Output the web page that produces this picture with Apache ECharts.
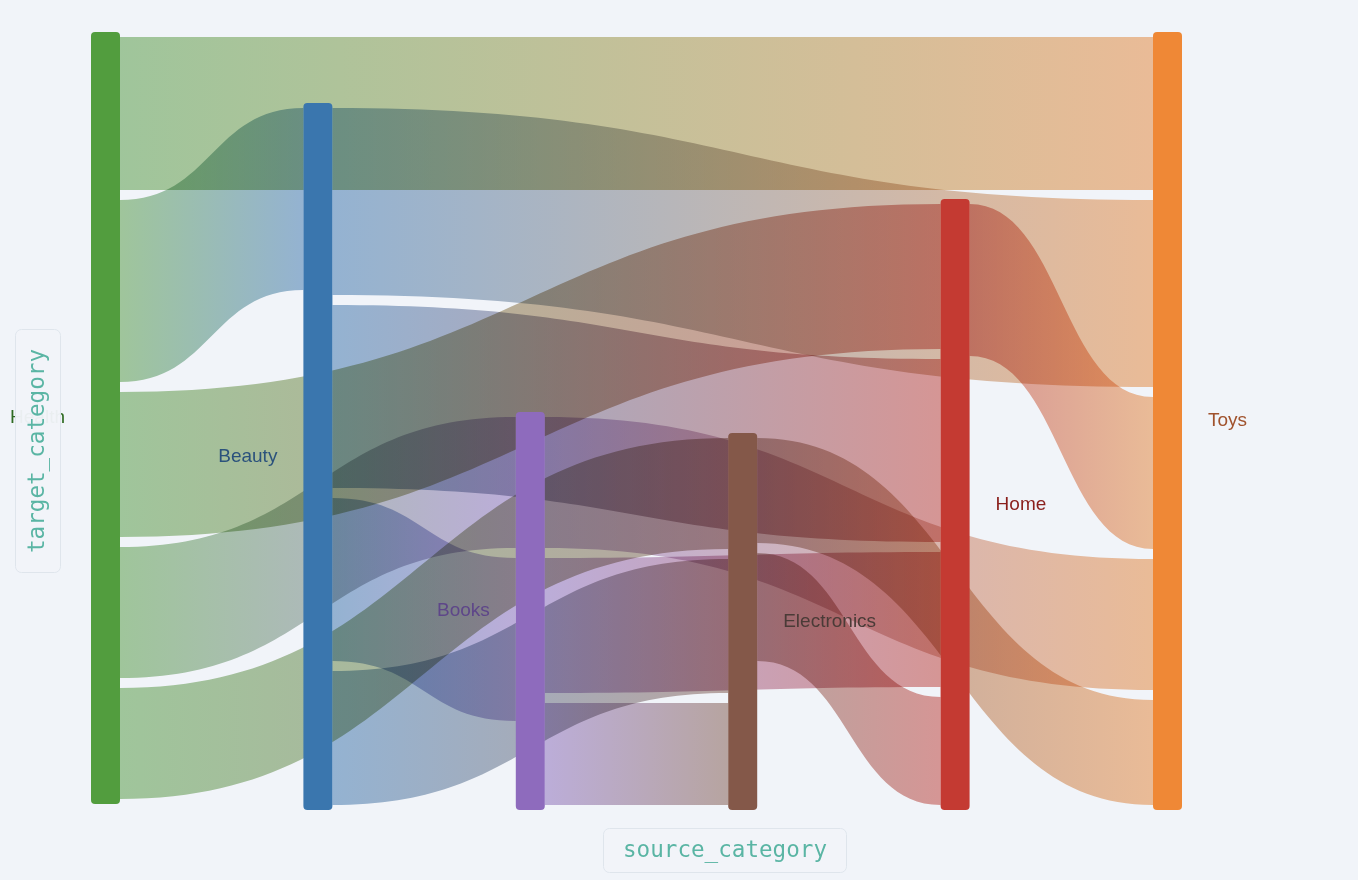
<!DOCTYPE html>
<html>
<head>
<meta charset="utf-8">
<script src="https://cdn.jsdelivr.net/npm/echarts@6/dist/echarts.min.js"></script>
<style>
html,body{margin:0;padding:0;background:#f1f4f9;}
#chart{width:1358px;height:880px;}
</style>
</head>
<body>
<div id="chart"></div>
<script>
// ---- data ----
const nodeNames   = ['Health', 'Beauty', 'Books', 'Electronics', 'Home', 'Toys'];
const nodeColors  = ['#529d3e', '#3a76ae', '#8e6bbd', '#845849', '#c43a32', '#ef8836'];
const labelColors = ['#2f6a22', '#2b527c', '#5e4689', '#4a3b37', '#8a1f1c', '#a0522d'];

const linkSources = ['Health','Health','Health','Health','Health',
                     'Beauty','Beauty','Beauty','Beauty',
                     'Books','Books','Books',
                     'Electronics','Electronics',
                     'Home'];
const linkTargets = ['Toys','Beauty','Home','Books','Electronics',
                     'Toys','Home','Books','Electronics',
                     'Toys','Home','Electronics',
                     'Toys','Home',
                     'Toys'];
const linkValues  = [153, 182, 145, 131, 111,
                     187, 183, 163, 134,
                     131, 135, 102,
                     105, 108,
                     152];

// invisible half-gap spacer flows placed around every link (gives the gaps between bands)
const SPACER = 5;
// vertical alignment of each node inside the layout box
const nodeVAlign = ['top', 'bottom', 'bottom', 'bottom', 'bottom', 'top'];

const BG = '#f1f4f9';
const NODE_WIDTH = 29;

// node totals (max of in/out flow, spacers included) -> node alignment
const inSum = {}, outSum = {};
nodeNames.forEach(n => { inSum[n] = 0; outSum[n] = 0; });
linkSources.forEach((s, i) => {
  const v = linkValues[i] + 2 * SPACER;
  outSum[s] += v;
  inSum[linkTargets[i]] += v;
});
const nodeTotals = nodeNames.map(n => Math.max(inSum[n], outSum[n]));
const maxTotal = Math.max.apply(null, nodeTotals);

const nodes = nodeNames.map((n, i) => ({
  name: n,
  localY: nodeVAlign[i] === 'bottom' ? 1 - nodeTotals[i] / maxTotal : 0,
  itemStyle: { color: nodeColors[i], borderRadius: 4 },
  label: { position: i < 3 ? 'left' : 'right', color: labelColors[i] }
}));

const links = [];
linkSources.forEach((s, i) => {
  links.push({ source: s, target: linkTargets[i], value: SPACER, lineStyle: { opacity: 0 }, silent: true });
  links.push({ source: s, target: linkTargets[i], value: linkValues[i] });
  links.push({ source: s, target: linkTargets[i], value: SPACER, lineStyle: { opacity: 0 }, silent: true });
});

const chart = echarts.init(document.getElementById('chart'), null, { renderer: 'canvas' });
const boxFont = '22.6px "DejaVu Sans Mono", monospace';
chart.setOption({
  backgroundColor: BG,
  animation: false,
  series: [{
    type: 'sankey',
    z: 2,
    left: 91,
    right: 176,
    top: 32,
    bottom: 70,
    nodeWidth: NODE_WIDTH,
    nodeGap: 10,
    layoutIterations: 32,
    data: nodes,
    links: links,
    label: {
      fontSize: 19,
      fontFamily: '"Liberation Sans", Arial, sans-serif',
      distance: 26
    },
    lineStyle: {
      color: 'gradient',
      opacity: 0.5,
      curveness: 0.5
    },
    emphasis: { disabled: true }
  }],
  graphic: {
    zlevel: 5,
    z: 100,
    elements: [
      {
        type: 'rect', name: 'axisBox', zlevel: 5, z: 100,
        shape: { x: 603.5, y: 828.5, width: 243, height: 44, r: 6 },
        style: { fill: 'rgba(241,244,249,0.96)', stroke: '#dfe5ec', lineWidth: 1 }
      },
      {
        type: 'text', name: 'axisBox', zlevel: 5, z: 101, x: 725, y: 851,
        style: { text: 'source_category', font: boxFont, fill: '#5ab5a4', align: 'center', verticalAlign: 'middle' }
      },
      {
        type: 'rect', name: 'axisBox', zlevel: 5, z: 100,
        shape: { x: 15.5, y: 329.5, width: 45, height: 243, r: 6 },
        style: { fill: 'rgba(241,244,249,0.96)', stroke: '#dfe5ec', lineWidth: 1 }
      },
      {
        type: 'text', name: 'axisBox', zlevel: 5, z: 101, x: 38, y: 451, rotation: Math.PI / 2,
        style: { text: 'target_category', font: boxFont, fill: '#5ab5a4', align: 'center', verticalAlign: 'middle' }
      }
    ]
  }
});

// flows are blended with "multiply" so overlapping bands darken each other; nodes get rounded corners;
// the boxed axis names sit above the chart layer
function postStyle() {
  const zr = chart.getZr();
  zr.storage.getDisplayList(true).forEach(el => {
    if (el.name === 'axisBox') {
      el.zlevel = 5;
      el.z = el.type === 'rect' ? 100 : 101;
      el.z2 = 1000;
      if (el.markRedraw) el.markRedraw();
    } else if (el.shape && el.shape.cpx1 !== undefined && el.shape.extent !== undefined) {
      el.style.blend = 'multiply';
      if (el.markRedraw) el.markRedraw();
    } else if (el.type === 'rect' && Math.abs(el.shape.width - NODE_WIDTH) < 0.5) {
      el.setShape('r', 4);
    }
  });
  zr.refreshImmediately();
}
postStyle();
chart.on('finished', function once() {
  chart.off('finished', once);
  postStyle();
});
</script>
</body>
</html>
